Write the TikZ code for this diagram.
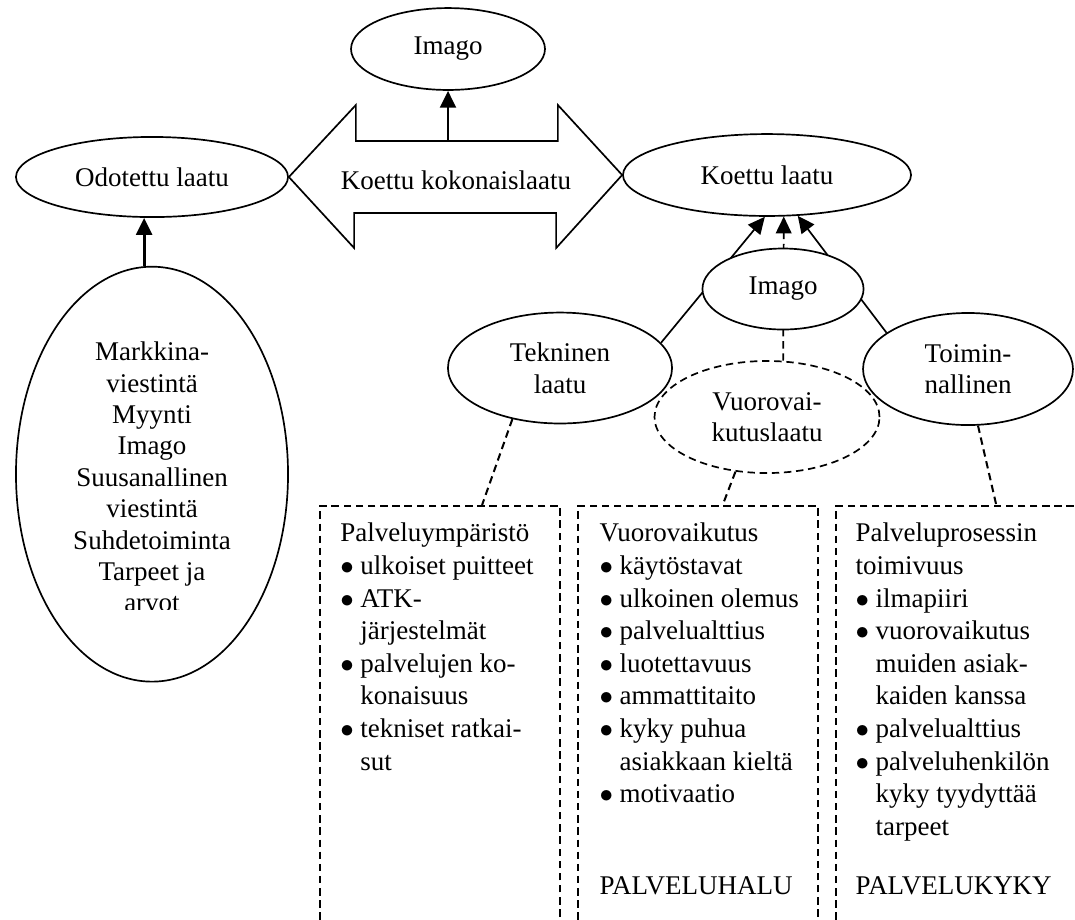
\documentclass[tikz,border=0pt]{standalone}
\usepackage{fontspec}
\setmainfont{Liberation Serif}
\usetikzlibrary{shapes,arrows.meta,positioning,calc}
\newcommand{\bul}{\makebox[8.9pt][l]{$\bullet$}}
\newcommand{\ind}{\hspace*{8.9pt}}
\tikzset{
    font = \fontsize{12}{14}\selectfont,
    quality/.style = { draw, ellipse, line width = 0.75pt, inner sep = 0pt,
        align = center, fill = white
    },
    dquality/.style = { quality, dash pattern = on 3.3pt off 2.1pt },
    listbox/.style = { draw, rectangle, line width = 0.9pt, inner sep = 0pt,
        dash pattern = on 3.3pt off 2.1pt,
        minimum width = 106.7pt, minimum height = 200pt
    },
    listtext/.style = { align = left, inner sep = 0pt,
        font = \fontsize{12}{14.5}\selectfont
    },
    arrow/.style = { -{Triangle[length=7.5pt,width=7pt]}, line width = 0.75pt },
    thickarrow/.style = { -{Triangle[length=7.5pt,width=7pt]}, line width = 1.3pt },
    dline/.style = { line width = 0.9pt, dash pattern = on 3.3pt off 2.1pt }
}

\begin{document}
\begin{tikzpicture}[x=0.4444pt, y=-0.4444pt]
        \clip (0,0) rectangle (1075,919);

        % top row...
        \node[quality, minimum width = 86.2pt, minimum height = 36.4pt] (imagotop) at (448,49) {Imago};
        \node[quality, minimum width = 120.9pt, minimum height = 35.6pt] (odotettu) at (152,177) {Odotettu laatu};
        \node[quality, minimum width = 128pt, minimum height = 36.4pt] (koettu) at (767,175) {Koettu laatu};
        \node[quality, minimum width = 120.9pt, minimum height = 184.4pt] (markkina) [below = 21.3pt of odotettu] {};

        \draw[line width = 0.75pt, fill = white] (odotettu.east) -- ++(67,-72) -- ++(0,36) -- ++(202,0) -- ++(0,-36)
            -- (koettu.west) -- ++(-66,73) -- ++(0,-35) -- ++(-202,0) -- ++(0,35) -- cycle;
        \node (kokonais) at (456,180) {Koettu kokonaislaatu};
        \coordinate (kokotop) at (448,141);
        \draw[thickarrow] (kokotop) -- (imagotop);

        % left branch...
        \begin{scope}
            \clip (0,0) rectangle (1075,609.5);
            \node[align = center, font = \fontsize{12}{13.95}\selectfont] (markkinatext) at (152,477)
                {Markkina-\\viestintä\\Myynti\\Imago\\Suusanallinen\\viestintä\\Suhdetoiminta\\Tarpeet ja\\arvot};
        \end{scope}
        \draw[thickarrow] ([xshift = -3.5pt]markkina.north) -- ([xshift = -3.5pt]odotettu.south);

        % right branch...
        \node[quality, minimum width = 99.6pt, minimum height = 49.3pt] (tekninen) at (560,368) {Tekninen\\laatu};
        \node[dquality, minimum width = 100pt, minimum height = 49.8pt] (vuoro) at (767,417) {Vuorovai-\\kutuslaatu};
        \node[quality, minimum width = 93.3pt, minimum height = 49.8pt] (toimi) at (968,369) {Toimin-\\nallinen};
        \draw[arrow] (tekninen.14) -- (koettu.267);
        \draw[arrow] (toimi.156) -- (koettu.307);
        \draw[dline, arrow] (vuoro.74) -- (koettu.292);
        \node[quality, minimum width = 71.6pt, minimum height = 36pt] (imago) at (783,289) {Imago};

        % lists...
        \node[listbox, anchor = north west] (box1) at (319,505) {};
        \node[listbox] (box2) [right = 7.1pt of box1] {};
        \node[listbox] (box3) [right = 7.1pt of box2] {};
        \draw[dline] (tekninen.227) -- ($(box1.north)+(42,0)$);
        \draw[dline] (vuoro.240) -- ($(box2.north)+(24.5,0)$);
        \draw[dline] (toimi.280) -- ($(box3.north)+(40,0)$);

        \node[listtext, below right = 7.8pt and 9.3pt of box1.north west] (list1) {
            Palveluympäristö\\
            \bul ulkoiset puitteet\\
            \bul ATK-\\
            \ind järjestelmät\\
            \bul palvelujen ko-\\
            \ind konaisuus\\
            \bul tekniset ratkai-\\
            \ind sut
        };
        \node[listtext, below right = 7.8pt and 9.8pt of box2.north west] (list2) {
            Vuorovaikutus\\
            \bul käytöstavat\\
            \bul ulkoinen olemus\\
            \bul palvelualttius\\
            \bul luotettavuus\\
            \bul ammattitaito\\
            \bul kyky puhua\\
            \ind asiakkaan kieltä\\
            \bul motivaatio
        };
        \node[listtext, below right = 7.8pt and 8.9pt of box3.north west] (list3) {
            Palveluprosessin\\
            toimivuus\\
            \bul ilmapiiri\\
            \bul vuorovaikutus\\
            \ind muiden asiak-\\
            \ind kaiden kanssa\\
            \bul palvelualttius\\
            \bul palveluhenkilön\\
            \ind kyky tyydyttää\\
            \ind tarpeet
        };
        \node[listtext, below right = 164.9pt and 9.8pt of box2.north west] (halu) {PALVELUHALU};
        \node[listtext, below right = 164.9pt and 8.9pt of box3.north west] (kyky) {PALVELUKYKY};

    \end{tikzpicture}
\end{document}
